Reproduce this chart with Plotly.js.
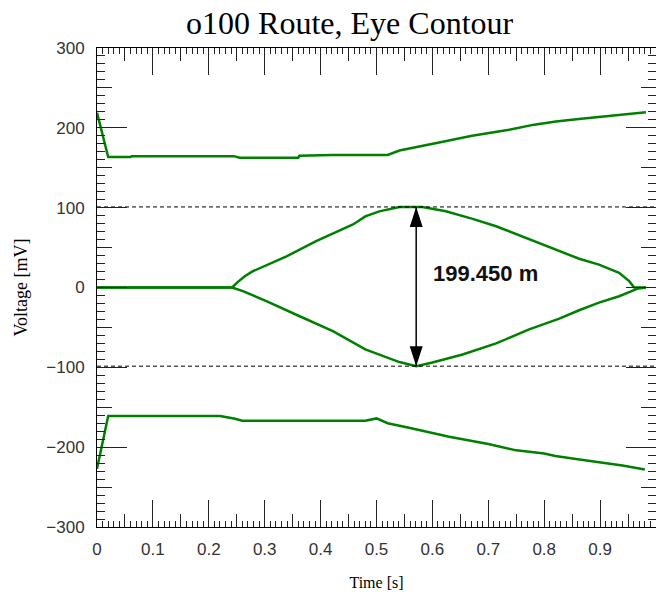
<!DOCTYPE html>
<html>
<head>
<meta charset="utf-8">
<script src="https://cdn.plot.ly/plotly-3.0.1.min.js"></script>
<style>html,body{margin:0;padding:0;background:#fff;}#chart{width:656px;height:592px;}</style>
</head>
<body>
<div id="chart"></div>
<script>
// Top envelope (upper outer contour)
const topX = [0, 0.02, 0.06, 0.062, 0.245, 0.255, 0.36, 0.362, 0.42, 0.52, 0.541, 0.564, 0.612, 0.671, 0.7375, 0.782, 0.821, 0.862, 0.904, 0.94, 0.982];
const topY = [219, 163.5, 163.5, 164.5, 164.5, 162.5, 162.5, 165, 166, 166, 171.6, 174.6, 181.7, 190, 197.5, 204, 208, 211, 214, 217.5, 219.6];
// Bottom envelope (lower outer contour)
const botX = [0, 0.02, 0.22, 0.245, 0.26, 0.48, 0.5, 0.52, 0.56, 0.63, 0.70, 0.75, 0.80, 0.82, 0.86, 0.90, 0.94, 0.98];
const botY = [-227, -161, -161, -164, -167, -167, -164, -170, -176, -187, -196, -204, -208, -211, -215, -219, -223, -228];
// Inner eye, upper edge
const eyeUpX = [0, 0.2417, 0.252, 0.265, 0.279, 0.303, 0.339, 0.392, 0.458, 0.48, 0.505, 0.541, 0.571, 0.582, 0.624, 0.672, 0.714, 0.761, 0.815, 0.8625, 0.898, 0.934, 0.952, 0.961, 0.982];
const eyeUpY = [0, 0, 7, 14.5, 20.4, 27.5, 39, 58, 79, 89, 95.4, 100.8, 100.9, 100.8, 95.4, 86, 76.7, 64, 49.6, 36, 28.7, 18.4, 8, 0, 0];
// Inner eye, lower edge
const eyeLoX = [0, 0.2417, 0.261, 0.303, 0.3625, 0.422, 0.48, 0.505, 0.541, 0.571, 0.60, 0.654, 0.714, 0.773, 0.827, 0.8625, 0.898, 0.934, 0.955, 0.966, 0.982];
const eyeLoY = [0, 0, -4.6, -17, -36, -54.6, -77.5, -84, -93.4, -98.6, -94, -84, -70, -52.5, -39, -28.5, -19, -10.9, -4.6, -1.7, 0];
// Eye opening measurement
const eyeTop = 100.9;
const eyeBot = -98.55;
const arrowX = 0.571;
const eyeLabel = "199.450 m";
const labelPos = [0.598, 18];

const green = '#008000';
const lineStyle = {color: green, width: 2.5};

const traces = [
  {x: topX, y: topY, mode: 'lines', line: lineStyle, hoverinfo: 'skip'},
  {x: botX, y: botY, mode: 'lines', line: lineStyle, hoverinfo: 'skip'},
  {x: eyeUpX, y: eyeUpY, mode: 'lines', line: lineStyle, hoverinfo: 'skip'},
  {x: eyeLoX, y: eyeLoY, mode: 'lines', line: lineStyle, hoverinfo: 'skip'},
  {x: [0, 1], y: [eyeTop, eyeTop], mode: 'lines', line: {color: '#000', width: 1, dash: '4px,3px'}, hoverinfo: 'skip'},
  {x: [0, 1], y: [eyeBot, eyeBot], mode: 'lines', line: {color: '#000', width: 1, dash: '4px,3px'}, hoverinfo: 'skip'},
  {x: [arrowX, arrowX], y: [eyeTop, eyeBot], mode: 'lines+markers',
   line: {color: '#000', width: 1.5},
   marker: {symbol: 'arrow', size: 21, angle: [0, 180], color: '#000', line: {width: 0}},
   hoverinfo: 'skip'},
  {x: [0.5], y: [0], xaxis: 'x2', yaxis: 'y2', mode: 'markers', marker: {opacity: 0}, hoverinfo: 'skip'},
  {x: [0.5], y: [0], xaxis: 'x3', yaxis: 'y3', mode: 'markers', marker: {opacity: 0}, hoverinfo: 'skip'}
];

const tickFont = {family: '"Liberation Sans Narrow", "Liberation Sans", Arial, sans-serif', size: 17, color: '#333'};
const serif = '"Liberation Serif", "Times New Roman", serif';
const tc = '#222';

function tickAxis(range, dtick, len, extra) {
  return Object.assign({
    range: range, tick0: 0, dtick: dtick, ticks: 'inside', ticklen: len, tickwidth: 1, tickcolor: tc,
    showticklabels: false, showline: false, mirror: 'ticks', showgrid: false, zeroline: false
  }, extra);
}

const layout = {
  width: 656, height: 592,
  margin: {l: 97, r: 0, t: 48, b: 65},
  paper_bgcolor: '#fff', plot_bgcolor: '#fff',
  showlegend: false,
  title: {text: 'o100 Route, Eye Contour', font: {family: serif, size: 32, color: '#000'},
          x: 0.533, xref: 'container', xanchor: 'center', y: 0.962, yref: 'container', yanchor: 'middle'},
  xaxis: {
    range: [0, 1], tick0: 0, dtick: 0.1, ticks: 'inside', ticklen: 27, tickwidth: 1, tickcolor: tc,
    showline: true, linecolor: '#000', linewidth: 1, mirror: 'ticks',
    showgrid: false, zeroline: false, tickfont: tickFont, ticklabelstandoff: 7,
    title: {text: 'Time [s]', font: {family: serif, size: 16, color: '#000'}, standoff: 18}
  },
  yaxis: {
    range: [-300, 300], tick0: 0, dtick: 100, ticks: 'inside', ticklen: 30, tickwidth: 1, tickcolor: tc,
    showline: true, linecolor: '#000', linewidth: 1, mirror: 'ticks',
    showgrid: false, zeroline: false, tickfont: tickFont, ticklabelstandoff: 8,
    title: {text: 'Voltage [mV]', font: {family: serif, size: 18, color: '#000'}, standoff: 14}
  },
  xaxis2: tickAxis([0, 1], 0.05, 13, {overlaying: 'x', anchor: 'y2', side: 'bottom'}),
  yaxis2: tickAxis([-300, 300], 50, 15, {overlaying: 'y', anchor: 'x2', side: 'left'}),
  xaxis3: tickAxis([0, 1], 0.01, 6, {overlaying: 'x', anchor: 'y3', side: 'bottom'}),
  yaxis3: tickAxis([-300, 300], 10, 8, {overlaying: 'y', anchor: 'x3', side: 'left'}),
  annotations: [
    {x: labelPos[0], y: labelPos[1], xref: 'x', yref: 'y', text: eyeLabel, showarrow: false,
     xanchor: 'left', yanchor: 'middle',
     font: {family: '"Liberation Sans", Arial, sans-serif', size: 22, color: '#111', weight: 'bold'}}
  ]
};

Plotly.newPlot('chart', traces, layout, {staticPlot: true, displayModeBar: false});
</script>
</body>
</html>
